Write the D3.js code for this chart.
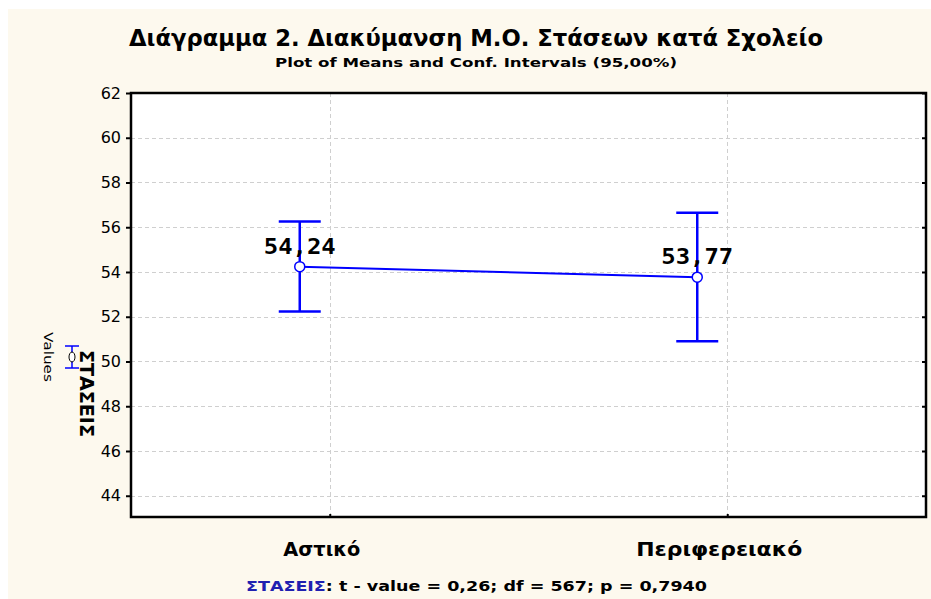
<!DOCTYPE html>
<html>
<head>
<meta charset="utf-8">
<script src="https://cdn.jsdelivr.net/npm/d3@7"></script>
<style>
  body { margin: 0; background: #fff; }
  svg { display: block; }
</style>
</head>
<body>
<svg id="chart" width="931" height="599"></svg>
<script>
  // chart data
  var categories = ['Αστικό', 'Περιφερειακό'];
  var means = [54.24, 53.77];
  var ciLow = [52.23, 50.90];
  var ciHigh = [56.26, 56.65];
  var meanLabels = ['54,24', '53,77'];
  var yTicks = [44, 46, 48, 50, 52, 54, 56, 58, 60, 62];

  var W = 931, H = 599;
  var plot = { left: 131, top: 93, right: 926, bottom: 517 };
  var markShift = -30; // points sit left of the category tick, as in the original
  var blue = '#0000ff';
  var titleFont = '"DejaVu Sans", sans-serif';

  var svg = d3.select('#chart');

  svg.append('rect')
    .attr('x', 8).attr('y', 9)
    .attr('width', W - 8).attr('height', H - 9)
    .attr('fill', '#fdf9ee');

  var x = d3.scalePoint()
    .domain(categories)
    .range([plot.left, plot.right])
    .padding(0.5);

  var y = d3.scaleLinear()
    .domain([43.05, 62])
    .range([plot.bottom, plot.top]);

  svg.append('rect')
    .attr('x', plot.left).attr('y', plot.top)
    .attr('width', plot.right - plot.left)
    .attr('height', plot.bottom - plot.top)
    .attr('fill', '#fff');

  // grid
  var grid = svg.append('g')
    .attr('stroke', '#cfcfcf')
    .attr('stroke-width', 1)
    .attr('stroke-dasharray', '4,3');

  grid.selectAll('.hgrid')
    .data(yTicks.filter(function(t) { return t < 62; }))
    .enter().append('line')
    .attr('x1', plot.left).attr('x2', plot.right)
    .attr('y1', function(d) { return Math.round(y(d)) + 0.5; })
    .attr('y2', function(d) { return Math.round(y(d)) + 0.5; });

  grid.selectAll('.vgrid')
    .data(categories)
    .enter().append('line')
    .attr('x1', function(d) { return Math.round(x(d)) + 0.5; })
    .attr('x2', function(d) { return Math.round(x(d)) + 0.5; })
    .attr('y1', plot.top).attr('y2', plot.bottom);

  // axes
  var yAxis = d3.axisLeft(y).tickValues(yTicks).tickSize(5).tickPadding(5);
  var gy = svg.append('g')
    .attr('transform', 'translate(' + plot.left + ',0)')
    .call(yAxis);
  gy.select('.domain').remove();
  gy.selectAll('line').attr('stroke', '#000').attr('stroke-width', 2);
  gy.selectAll('text')
    .attr('font-family', '"DejaVu Sans", sans-serif')
    .attr('font-size', 16)
    .attr('fill', '#000');

  var yAxisRight = d3.axisLeft(y).tickValues(yTicks).tickSize(4).tickFormat('');
  var gyr = svg.append('g')
    .attr('transform', 'translate(' + plot.right + ',0)')
    .call(yAxisRight);
  gyr.select('.domain').remove();
  gyr.selectAll('line').attr('stroke', '#000').attr('stroke-width', 2);

  var xAxis = d3.axisTop(x).tickSize(3).tickFormat('');
  var gx = svg.append('g')
    .attr('transform', 'translate(0,' + plot.bottom + ')')
    .call(xAxis);
  gx.select('.domain').remove();
  gx.selectAll('line').attr('stroke', '#000').attr('stroke-width', 2);

  svg.selectAll('.catLabel')
    .data(categories)
    .enter().append('text')
    .attr('x', function(d) { return x(d) - 8; })
    .attr('y', 556)
    .attr('text-anchor', 'middle')
    .attr('font-family', titleFont)
    .attr('font-weight', 'bold')
    .attr('font-size', 20)
    .attr('textLength', function(d, i) { return i === 0 ? 77 : 166; })
    .attr('lengthAdjust', 'spacingAndGlyphs')
    .text(function(d) { return d; });

  // border
  svg.append('rect')
    .attr('x', plot.left).attr('y', plot.top)
    .attr('width', plot.right - plot.left)
    .attr('height', plot.bottom - plot.top)
    .attr('fill', 'none')
    .attr('stroke', '#000')
    .attr('stroke-width', 2.5);

  // means + confidence intervals
  var rows = categories.map(function(c, i) {
    return { cat: c, mean: means[i], lo: ciLow[i], hi: ciHigh[i], label: meanLabels[i] };
  });
  var px = function(d) { return x(d.cat) + markShift; };

  svg.append('path')
    .datum(rows)
    .attr('fill', 'none')
    .attr('stroke', blue)
    .attr('stroke-width', 2)
    .attr('d', d3.line().x(px).y(function(d) { return y(d.mean); }));

  var bars = svg.selectAll('.ci')
    .data(rows)
    .enter().append('g')
    .attr('stroke', blue)
    .attr('stroke-width', 2.5);

  bars.append('line')
    .attr('x1', px).attr('x2', px)
    .attr('y1', function(d) { return y(d.lo); })
    .attr('y2', function(d) { return y(d.hi); });

  bars.append('line')
    .attr('x1', function(d) { return px(d) - 21; })
    .attr('x2', function(d) { return px(d) + 21; })
    .attr('y1', function(d) { return y(d.lo); })
    .attr('y2', function(d) { return y(d.lo); });

  bars.append('line')
    .attr('x1', function(d) { return px(d) - 21; })
    .attr('x2', function(d) { return px(d) + 21; })
    .attr('y1', function(d) { return y(d.hi); })
    .attr('y2', function(d) { return y(d.hi); });

  svg.selectAll('.meanLabel')
    .data(rows)
    .enter().append('text')
    .attr('x', px)
    .attr('y', function(d) { return y(d.mean) - 13; })
    .attr('text-anchor', 'middle')
    .attr('font-family', '"DejaVu Sans Mono", monospace')
    .attr('font-weight', 'bold')
    .attr('font-size', 22)
    .attr('textLength', 72)
    .attr('lengthAdjust', 'spacingAndGlyphs')
    .text(function(d) { return d.label; });

  svg.selectAll('.dot')
    .data(rows)
    .enter().append('circle')
    .attr('cx', px)
    .attr('cy', function(d) { return y(d.mean); })
    .attr('r', 5)
    .attr('fill', '#fff')
    .attr('stroke', blue)
    .attr('stroke-width', 1.5);

  // titles
  svg.append('text')
    .attr('x', 476).attr('y', 46)
    .attr('text-anchor', 'middle')
    .attr('font-family', titleFont)
    .attr('font-weight', 'bold')
    .attr('font-size', 23)
    .attr('textLength', 694)
    .attr('lengthAdjust', 'spacingAndGlyphs')
    .text('Διάγραμμα 2. Διακύμανση Μ.Ο. Στάσεων κατά Σχολείο');

  svg.append('text')
    .attr('x', 476).attr('y', 67)
    .attr('text-anchor', 'middle')
    .attr('font-family', titleFont)
    .attr('font-weight', 'bold')
    .attr('font-size', 13)
    .attr('textLength', 402)
    .attr('lengthAdjust', 'spacingAndGlyphs')
    .text('Plot of Means and Conf. Intervals (95,00%)');

  // footer
  var foot = svg.append('text')
    .attr('x', 246).attr('y', 591)
    .attr('font-family', titleFont)
    .attr('font-weight', 'bold')
    .attr('font-size', 14)
    .attr('textLength', 461)
    .attr('lengthAdjust', 'spacingAndGlyphs');
  foot.append('tspan').attr('fill', '#2020b0').text('ΣΤΑΣΕΙΣ');
  foot.append('tspan').attr('fill', '#000').text(': t - value = 0,26; df = 567; p = 0,7940');

  // y axis title and legend
  svg.append('text')
    .attr('transform', 'translate(80,350) rotate(90)')
    .attr('font-family', titleFont)
    .attr('font-weight', 'bold')
    .attr('font-size', 19)
    .attr('textLength', 87)
    .attr('lengthAdjust', 'spacingAndGlyphs')
    .text('ΣΤΑΣΕΙΣ');

  svg.append('text')
    .attr('transform', 'translate(44,332) rotate(90)')
    .attr('font-family', '"DejaVu Sans", sans-serif')
    .attr('font-size', 13)
    .attr('textLength', 50)
    .attr('lengthAdjust', 'spacingAndGlyphs')
    .text('Values');

  var leg = svg.append('g').attr('transform', 'translate(72,357)');
  leg.append('line').attr('x1', 0).attr('x2', 0).attr('y1', -11).attr('y2', 11)
    .attr('stroke', blue).attr('stroke-width', 1.5);
  leg.append('line').attr('x1', -7).attr('x2', 7).attr('y1', -11).attr('y2', -11)
    .attr('stroke', blue).attr('stroke-width', 1.5);
  leg.append('line').attr('x1', -7).attr('x2', 7).attr('y1', 11).attr('y2', 11)
    .attr('stroke', blue).attr('stroke-width', 1.5);
  leg.append('ellipse').attr('rx', 3).attr('ry', 5)
    .attr('fill', '#fff').attr('stroke', '#000').attr('stroke-width', 1);
</script>
</body>
</html>
